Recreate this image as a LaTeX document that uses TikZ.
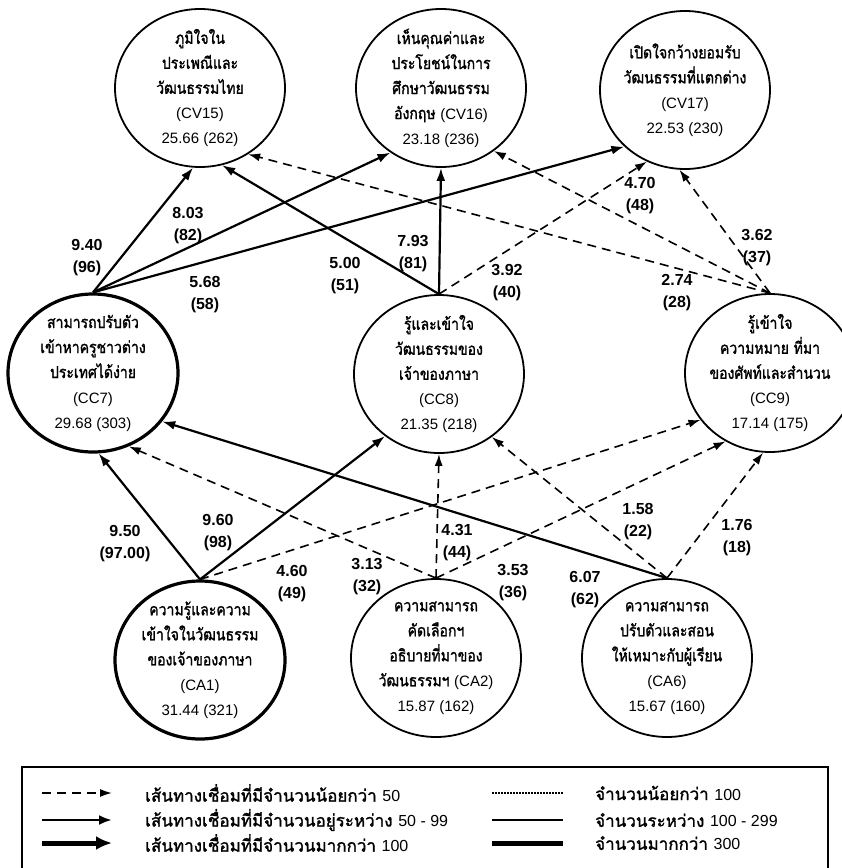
\documentclass[tikz,border=0pt]{standalone}
\usepackage{fontspec}
\setmainfont{Liberation Sans}
\newfontfamily\thaifont[Script=Thai, FakeStretch=0.85, FakeBold=1.5]{Loma}
\newfontfamily\keyfont[Script=Thai, FakeBold=1.5]{Loma}
\newcommand\lat[1]{{\rmfamily\fontsize{15}{25}\selectfont #1}}
\newcommand\keynum[1]{{\rmfamily\fontsize{16}{20}\selectfont #1}}
\usetikzlibrary{arrows.meta,positioning,shapes.geometric}

\begin{document}
\begin{tikzpicture}[x=1pt, y=-1pt,
  every node/.style={font=\thaifont\fontsize{16.5}{25}\selectfont},
  bubble/.style={draw, ellipse, line width=1.8pt, minimum width=170pt,
    minimum height=158pt, inner xsep=-16pt, inner ysep=-8pt, align=center},
  bigbubble/.style={bubble, line width=3.2pt},
  lbl/.style={font=\bfseries\fontsize{16}{22}\selectfont, align=center, inner sep=1pt},
  strong/.style={-{Latex[length=13pt, width=9pt]}, line width=2.2pt},
  weak/.style={-{Latex[length=12pt, width=8pt]}, line width=1.6pt,
    dash pattern=on 9pt off 6pt},
  keytext/.style={anchor=west, inner sep=0pt, font=\keyfont\fontsize{17}{20}\selectfont}]
  \useasboundingbox (0,0) rectangle (842,868);

  % Top row
  \node[bubble] (cv15) at (200,88)
        {ภูมิใจใน\\ประเพณีและ\\วัฒนธรรมไทย\\\lat{(CV15)}\\\lat{25.66 (262)}};
  \node[bubble] (cv16) at (441,88)
        {เห็นคุณค่าและ\\ประโยชน์ในการ\\ศึกษาวัฒนธรรม\\อังกฤษ \lat{(CV16)}\\\lat{23.18 (236)}};
  \node[bubble] (cv17) at (685,90)
        {เปิดใจกว้างยอมรับ\\วัฒนธรรมที่แตกต่าง\\\lat{(CV17)}\\\lat{22.53 (230)}};

  % Middle row
  \node[bigbubble] (cc7) at (93,373)
        {สามารถปรับตัว\\เข้าหาครูชาวต่าง\\ประเทศได้ง่าย\\\lat{(CC7)}\\\lat{29.68 (303)}};
  \node[bubble] (cc8) at (439,374)
        {รู้และเข้าใจ\\วัฒนธรรมของ\\เจ้าของภาษา\\\lat{(CC8)}\\\lat{21.35 (218)}};
  \node[bubble] (cc9) at (770,373)
        {รู้เข้าใจ\\ความหมาย ที่มา\\ของศัพท์และสำนวน\\\lat{(CC9)}\\\lat{17.14 (175)}};

  % Bottom row
  \node[bigbubble] (ca1) at (200,660)
        {ความรู้และความ\\เข้าใจในวัฒนธรรม\\ของเจ้าของภาษา\\\lat{(CA1)}\\\lat{31.44 (321)}};
  \node[bubble] (ca2) at (436,658)
        {ความสามารถ\\คัดเลือกฯ\\อธิบายที่มาของ\\วัฒนธรรมฯ \lat{(CA2)}\\\lat{15.87 (162)}};
  \node[bubble] (ca6) at (667,658)
        {ความสามารถ\\ปรับตัวและสอน\\ให้เหมาะกับผู้เรียน\\\lat{(CA6)}\\\lat{15.67 (160)}};

  % Paths to the top row
  \draw[strong] (cc7.north) -- (cv15.-95);
  \draw[strong] (cc8.north) -- (cv15.-74);
  \draw[weak]   (cc9.north) -- (cv15.-54);
  \draw[strong] (cc7.north) -- (cv16.-128);
  \draw[strong] (cc8.north) -- (cv16.-90);
  \draw[weak]   (cc9.north) -- (cv16.-50);
  \draw[strong] (cc7.north) -- (cv17.-137);
  \draw[weak]   (cc8.north) -- (cv17.-118);
  \draw[weak]   (cc9.north) -- (cv17.-94);

  % Paths to the middle row
  \draw[strong] (ca1.north) -- (cc7.-86);
  \draw[weak]   (ca2.north) -- (cc7.-64);
  \draw[strong] (ca6.north) -- (cc7.-35);
  \draw[strong] (ca1.north) -- (cc8.-131);
  \draw[weak]   (ca2.north) -- (cc8.-90);
  \draw[weak]   (ca6.north) -- (cc8.-50);
  \draw[weak]   (ca1.north) -- (cc9.-146);
  \draw[weak]   (ca2.north) -- (cc9.-123);
  \draw[weak]   (ca6.north) -- (cc9.-95);

  % Path weights
  \node[lbl] (w1)  at (87,258)  {9.40\\(96)};
  \node[lbl] (w2)  at (188,226) {8.03\\(82)};
  \node[lbl] (w3)  at (205,295) {5.68\\(58)};
  \node[lbl] (w4)  at (345,276) {5.00\\(51)};
  \node[lbl] (w5)  at (413,254) {7.93\\(81)};
  \node[lbl] (w6)  at (507,283) {3.92\\(40)};
  \node[lbl] (w7)  at (677,293) {2.74\\(28)};
  \node[lbl] (w8)  at (640,196) {4.70\\(48)};
  \node[lbl] (w9)  at (757,248) {3.62\\(37)};
  \node[lbl] (w10) at (125,544) {9.50\\(97.00)};
  \node[lbl] (w11) at (218,533) {9.60\\(98)};
  \node[lbl] (w12) at (292,584) {4.60\\(49)};
  \node[lbl] (w13) at (457,543) {4.31\\(44)};
  \node[lbl] (w14) at (367,577) {3.13\\(32)};
  \node[lbl] (w15) at (513,583) {3.53\\(36)};
  \node[lbl] (w16) at (638,522) {1.58\\(22)};
  \node[lbl] (w17) at (737,538) {1.76\\(18)};
  \node[lbl] (w18) at (585,590) {6.07\\(62)};

  % Legend
  \draw[line width=1.6pt] (22,767) rectangle (828,880);
  \coordinate (k1a) at (42,793);  \coordinate (k1b) at (112,793);
  \coordinate (k2a) at (42,820);  \coordinate (k2b) at (112,820);
  \coordinate (k3a) at (42,843);  \coordinate (k3b) at (112,843);
  \coordinate (b1a) at (492,793); \coordinate (b1b) at (563,793);
  \coordinate (b2a) at (492,820); \coordinate (b2b) at (563,820);
  \coordinate (b3a) at (492,843); \coordinate (b3b) at (563,843);
  \draw[weak] (k1a) -- (k1b);
  \draw[-{Latex[length=13pt, width=10pt]}, line width=2.6pt] (k2a) -- (k2b);
  \draw[-{Latex[length=16pt, width=14pt]}, line width=5pt] (k3a) -- (k3b);
  \draw[line width=1.4pt, dash pattern=on 1.5pt off 1.5pt] (b1a) -- (b1b);
  \draw[line width=2pt] (b2a) -- (b2b);
  \draw[line width=5pt] (b3a) -- (b3b);
  \node[keytext] (t1) at (145,793) {เส้นทางเชื่อมที่มีจำนวนน้อยกว่า \keynum{50}};
  \node[keytext] (t2) at (145,820) {เส้นทางเชื่อมที่มีจำนวนอยู่ระหว่าง \keynum{50 - 99}};
  \node[keytext] (t3) at (145,843) {เส้นทางเชื่อมที่มีจำนวนมากกว่า \keynum{100}};
  \node[keytext] (t4) at (595,793) {จำนวนน้อยกว่า \keynum{100}};
  \node[keytext] (t5) at (595,820) {จำนวนระหว่าง \keynum{100 - 299}};
  \node[keytext] (t6) at (595,843) {จำนวนมากกว่า \keynum{300}};
\end{tikzpicture}
\end{document}
